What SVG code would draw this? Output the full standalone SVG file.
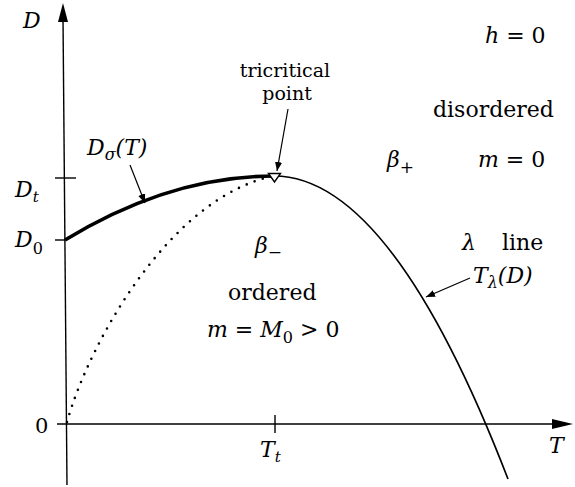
<svg xmlns="http://www.w3.org/2000/svg" width="575" height="487" viewBox="0 0 575 487">
<style>
.ax{stroke:#000;stroke-width:1.4;fill:none}
.cv{stroke:#000;fill:none}
.t{font-family:"DejaVu Serif","Liberation Serif",serif;fill:#000}
.m{font-family:"DejaVu Serif","Liberation Serif",serif;font-style:italic;fill:#000}
.ar{stroke:#000;stroke-width:1.2;fill:none;marker-end:url(#ah)}
</style>
<defs>
<marker id="ah" viewBox="0 0 10 10" refX="10" refY="5" markerWidth="9" markerHeight="9" markerUnits="userSpaceOnUse" orient="auto">
<path d="M0,1 L10,5 L0,9 Z" fill="#000"/>
</marker>
</defs>
<rect width="575" height="487" fill="#fff"/>
<g id="axes">
<line class="ax" x1="63" y1="18" x2="67" y2="485"/>
<path d="M63,3 L58,22 L68,22 Z" fill="#000"/>
<line class="ax" x1="57" y1="424" x2="556" y2="424"/>
<path d="M573,424 L552,419 L552,429 Z" fill="#000"/>
<line class="ax" x1="55" y1="178" x2="76" y2="178"/>
<line class="ax" x1="55" y1="240" x2="65" y2="240"/>
<line class="ax" x1="275" y1="415" x2="275" y2="433"/>
</g>
<g id="axis-labels">
<text class="m" x="23" y="28" font-size="22">D</text>
<text class="m" x="15" y="197" font-size="22">D<tspan font-size="15" dy="5">t</tspan></text>
<text class="m" x="15" y="247" font-size="22">D<tspan class="t" font-style="normal" font-size="16" dy="7">0</tspan></text>
<text class="t" x="35" y="433" font-size="21">0</text>
<text class="m" x="549" y="453" font-size="22">T</text>
<text class="m" x="260" y="457" font-size="22">T<tspan font-size="15" dy="5">t</tspan></text>
</g>
<g id="connectors">
<path class="cv" stroke-width="3.6" d="M65,240 Q170,176 274,176"/>
<path class="cv" stroke-width="2.6" stroke-linecap="round" stroke-dasharray="0 8.5" d="M67,422 C90,340 172,196 274,176"/>
<path class="cv" stroke-width="1.7" d="M274,176 Q391,176 508,479"/>
<line class="ar" x1="130" y1="165" x2="145" y2="203"/>
<line class="ar" x1="288" y1="109" x2="277" y2="171"/>
<line class="ar" x1="470" y1="278" x2="426" y2="297"/>
</g>
<g id="tricritical-point">
<path d="M268.5,173.5 L280.5,173.5 L274.5,182 Z" fill="#fff" stroke="#000" stroke-width="1.4"/>
</g>
<g id="labels">
<text class="m" x="87" y="155" font-size="22">D<tspan font-size="16" dy="5">σ</tspan><tspan dy="-5">(T)</tspan></text>
<text class="t" x="285" y="77" font-size="19" text-anchor="middle">tricritical</text>
<text class="t" x="287" y="100" font-size="19" text-anchor="middle">point</text>
<text class="m" x="485" y="43" font-size="22">h<tspan class="t" font-style="normal"> = 0</tspan></text>
<text class="t" x="433" y="117" font-size="22">disordered</text>
<text class="m" x="387" y="167" font-size="22">β<tspan class="t" font-style="normal" font-size="17" dy="6">+</tspan></text>
<text class="m" x="478" y="167" font-size="22">m<tspan class="t" font-style="normal"> = 0</tspan></text>
<text class="m" x="255" y="253" font-size="22">β<tspan class="t" font-style="normal" font-size="17" dy="5">−</tspan></text>
<text class="t" x="228" y="300" font-size="22">ordered</text>
<text class="m" x="207" y="337" font-size="22">m<tspan class="t" font-style="normal"> = </tspan>M<tspan class="t" font-style="normal" font-size="16" dy="6">0</tspan><tspan class="t" font-style="normal" dy="-6"> &gt; 0</tspan></text>
<text class="m" x="462" y="250" font-size="22">λ<tspan class="t" font-style="normal" dx="26">line</tspan></text>
<text class="m" x="473" y="283" font-size="22">T<tspan font-size="16" dy="5">λ</tspan><tspan dy="-5">(D)</tspan></text>
</g>
</svg>
